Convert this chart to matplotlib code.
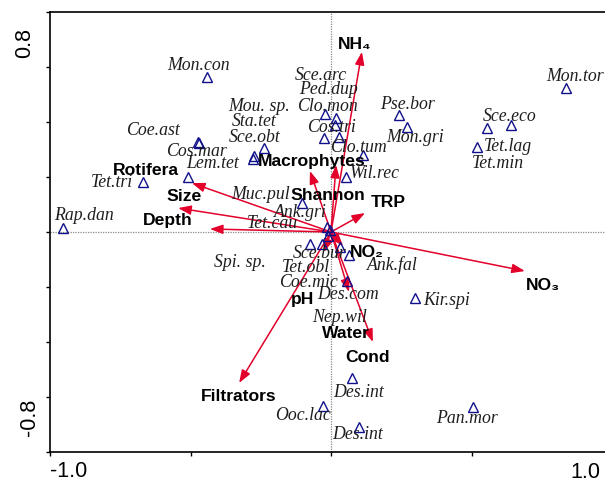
import matplotlib
matplotlib.use("Agg")
import matplotlib.pyplot as plt

# species scores (axis 1, axis 2)
species = ["Mon.con", "Coe.ast", "Cos.mar", "Lem.tet", "Tet.tri", "Rap.dan",
           "Mou. sp.", "Sta.tet", "Sce.obt", "Sce.arc", "Ped.dup", "Cos.tri",
           "Clo.mon", "Muc.pul", "Clo.tum", "Wil.rec", "Pse.bor", "Mon.gri",
           "Sce.eco", "Tet.min", "Tet.lag", "Mon.tor", "Ank.gri", "Tet.cau",
           "Spi. sp.", "Coe.mic", "Sce.bur", "Tet.obl", "Nep.wil", "Ank.fal",
           "Des.com", "Kir.spi", "Des.int", "Ooc.lac", "Des.int", "Pan.mor"]
sp_x = [-0.441, -0.473, -0.470, -0.509, -0.669, -0.954,
        -0.274, -0.278, -0.238, -0.021, 0.018, 0.014,
        -0.025, 0.028, 0.114, 0.053, 0.242, 0.270,
        0.641, 0.555, 0.520, 0.836, -0.103, -0.014,
        -0.004, -0.011, -0.075, -0.032, 0.032, 0.064,
        0.057, 0.299, 0.075, -0.028, 0.100, 0.505]
sp_y = [0.564, 0.327, 0.325, 0.200, 0.182, 0.015,
        0.276, 0.265, 0.305, 0.429, 0.415, 0.389,
        0.342, 0.345, 0.280, 0.200, 0.425, 0.382,
        0.389, 0.378, 0.309, 0.524, 0.105, 0.018,
        0.007, -0.015, -0.044, -0.044, -0.055, -0.084,
        -0.178, -0.240, -0.531, -0.633, -0.709, -0.636]

# environmental variables (arrow tips)
env = ["NH₄", "Macrophytes", "Shannon", "TRP", "Rotifera", "Size", "Depth",
       "NO₂", "NO₃", "pH", "Water", "Cond", "Filtrators"]
env_x = [0.110, -0.075, 0.018, 0.121, -0.495, -0.544, -0.431,
         0.043, 0.690, -0.025, 0.064, 0.149, -0.327]
env_y = [0.655, 0.222, 0.244, 0.069, 0.178, 0.087, 0.011,
         -0.051, -0.142, -0.073, -0.218, -0.400, -0.549]

# label offsets in pixels (dx, dy) from each point
sp_off = [(-9, 12), (-45, 13), (-3, -8), (25, 14), (-31, 0), (21, 13),
          (5, 51), (1, 39), (-9, 12), (-4, 40), (-8, 29), (-4, -1),
          (3, 32), (-78, -56), (-5, 8), (29, 4), (8, 12), (8, -10),
          (-1, 10), (11, -34), (31, 2), (9, 12), (-2, -8), (-55, 5),
          (-90, -31), (-20, -45), (10, -8), (-16, -22), (0, -69), (43, -9),
          (1, -13), (32, -2), (7, -13), (-20, -8), (-2, -7), (-6, -11)]
env_off = [(-7, 8), (2, 10), (-8, -30), (23, 12), (-46, 14), (6, 13),
           (-42, 9), (24, -5), (18, -13), (-21, -46), (-3, -41), (-5, -15),
           (0, -13)]

RED = "#e3002b"
NAVY = "#10108a"

fig = plt.figure(figsize=(6.05, 4.81), dpi=100)
# plot area runs off the right edge of the figure; clip x range there
ax = fig.add_axes([50 / 605, 28 / 481, 555 / 605, 440 / 481])
ax.set_xlim(-1.0, -1.0 + 555 / 281)
ax.set_ylim(-0.8, 0.8)

ax.axhline(0, color="#888888", lw=0.9, ls=(0, (1, 1)), zorder=1)
ax.axvline(0, color="#888888", lw=0.9, ls=(0, (1, 1)), zorder=1)

for name, x, y, (dx, dy) in zip(env, env_x, env_y, env_off):
    ax.annotate("", xy=(x, y), xytext=(0, 0),
                arrowprops=dict(arrowstyle="-|>,head_length=0.55,head_width=0.2",
                                color=RED, lw=1.1, mutation_scale=14,
                                shrinkA=0, shrinkB=0), zorder=3)
    ax.annotate(name, xy=(x, y), xytext=(dx, dy), textcoords="offset pixels",
                ha="center", va="center", fontsize=12.6, fontweight="bold",
                family=["Liberation Sans", "DejaVu Sans"], color="black", zorder=5)

ax.plot(sp_x, sp_y, ls="none", marker="^", ms=6.5, mfc="none", mec=NAVY,
        mew=1.0, zorder=4)
for name, x, y, (dx, dy) in zip(species, sp_x, sp_y, sp_off):
    ax.annotate(name, xy=(x, y), xytext=(dx, dy), textcoords="offset pixels",
                ha="center", va="center", fontsize=12.8, style="italic",
                family="Liberation Serif", color="#1e1e1e", zorder=5)

ax.set_xticks([-1.0, -0.5, 0.0, 0.5])
ax.set_yticks([-0.8, -0.6, -0.4, -0.2, 0.0, 0.2, 0.4, 0.6, 0.8])
ax.tick_params(direction="out", length=3, width=1.0, labelbottom=False,
               labelleft=False)
for s in ax.spines.values():
    s.set_linewidth(1.2)
ax.spines["right"].set_visible(False)

# range labels at the axis ends
tick_font = dict(fontsize=15.5, family="Liberation Sans")
fig.text(50 / 605, 1 - 472 / 481, "-1.0", ha="left", va="center", **tick_font)
fig.text(600 / 605, 1 - 473 / 481, "1.0", ha="right", va="center", **tick_font)
fig.text(25 / 605, 1 - 43 / 481, "0.8", ha="center", va="center",
         rotation=90, **tick_font)
fig.text(30 / 605, 1 - 417 / 481, "-0.8", ha="center", va="center",
         rotation=90, **tick_font)

fig.savefig("out.png", dpi=100)
